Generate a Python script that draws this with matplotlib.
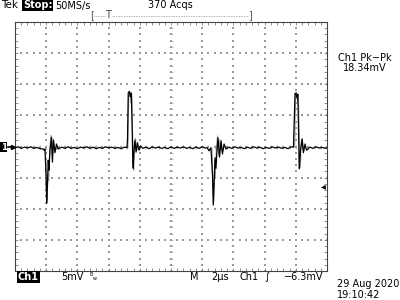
import numpy as np
from matplotlib import pyplot as plt

# scope settings
volts_per_div = 5      # mV
time_per_div = 2       # us
trig_level = -6.3      # mV

# main trace (time in us, voltage in mV)
trace_t = [0.0, 0.2, 0.4, 0.6, 0.8, 1.0, 1.2, 1.4, 1.6, 1.8,
           1.86, 1.92, 1.99, 2.03, 2.08, 2.13, 2.18, 2.24, 2.34, 2.40, 2.47, 2.56, 2.66, 2.76,
           3.0, 3.2, 3.4, 3.6, 3.8, 4.0, 4.2, 4.4, 4.6, 4.8, 5.0, 5.2, 5.4, 5.6, 5.8, 6.0,
           6.2, 6.4, 6.6, 6.8, 7.0, 7.18,
           7.21, 7.26, 7.33, 7.39, 7.46, 7.50, 7.55, 7.58, 7.63, 7.69, 7.76, 7.85, 7.95, 8.04,
           8.2, 8.4, 8.6, 8.8, 9.0, 9.2, 9.4, 9.6, 9.8, 10.0, 10.2, 10.4, 10.6, 10.8, 11.0,
           11.2, 11.4, 11.6, 11.8, 12.0, 12.2, 12.31,
           12.44, 12.56, 12.66, 12.71, 12.76, 12.82, 12.88, 12.95, 13.01, 13.11, 13.21, 13.30,
           13.40, 13.53,
           13.7, 13.9, 14.1, 14.3, 14.5, 14.7, 14.9, 15.1, 15.3, 15.5, 15.7, 15.9, 16.1, 16.3,
           16.5, 16.7, 16.9, 17.1, 17.3, 17.5, 17.7, 17.85,
           17.90, 17.95, 18.01, 18.08, 18.13, 18.17, 18.22, 18.30, 18.40, 18.49, 18.59, 18.69,
           18.9, 19.1, 19.3, 19.5, 19.7, 19.9, 20.0]
trace_v = [-0.2, -0.05, -0.3, -0.1, -0.25, -0.05, -0.3, -0.15, -0.35, -0.4,
           -0.56, -0.4, -4.6, -9.1, -6.2, -2.2, -3.8, -0.6, 1.5, -2.5, 1.0, -1.0, 0.4, -0.4,
           -0.1, -0.3, -0.05, -0.3, -0.15, -0.35, -0.1, -0.25, -0.05, -0.3, -0.1, -0.35, -0.15,
           -0.3, -0.05, -0.25, -0.1, -0.3, -0.15, -0.35, -0.1, -0.2,
           1.0, 8.6, 8.85, 8.0, 8.6, 4.3, -2.2, -3.5, -0.6, 1.0, -0.9, 0.6, -0.6, 0.1,
           -0.3, -0.1, -0.35, -0.05, -0.25, -0.1, -0.3, -0.15, -0.35, -0.05, -0.3, -0.1, -0.25,
           -0.05, -0.3, -0.15, -0.35, -0.1, -0.3, -0.05, -0.25, -0.2,
           -0.7, -0.2, -4.6, -9.4, -6.2, -1.8, -3.5, -0.6, 1.4, -1.7, 0.9, -1.2,
           0.4, -0.4,
           -0.1, -0.3, -0.05, -0.25, -0.15, -0.35, -0.1, -0.3, -0.05, -0.25, -0.1, -0.35, -0.15,
           -0.3, -0.05, -0.25, -0.1, -0.3, -0.15, -0.35, -0.05, -0.1,
           4.3, 8.5, 8.6, 7.8, 8.4, 3.5, -3.6, -0.6, 1.2, -1.0, 0.4, -0.6,
           -0.1, -0.3, -0.05, -0.25, -0.15, -0.3, -0.2]

# persistence (grey) acquisitions around the pulses
ghost_t = [1.95, 2.01, 2.06, 2.11, 2.16, 2.22, 2.30, 2.37, 2.45, 2.55, 2.70, np.nan,
           7.24, 7.29, 7.36, 7.42, 7.48, 7.53, 7.58, 7.61, 7.66, 7.72, 7.80, 7.90, np.nan,
           12.63, 12.69, 12.74, 12.79, 12.84, 12.90, 12.98, 13.05, 13.13, 13.23, 13.38, np.nan,
           17.93, 17.98, 18.05, 18.11, 18.17, 18.21, 18.26, 18.29, 18.34, 18.41, 18.50, 18.60]
ghost_v = [-0.3, -6.0, -8.5, -4.5, -5.5, -1.0, 1.8, -1.5, 1.2, -0.8, -0.2, np.nan,
           -0.2, 8.0, 8.9, 7.0, 8.2, 3.0, -2.5, -3.8, 0.2, 1.3, -0.6, -0.2, np.nan,
           -0.3, -6.5, -8.8, -4.2, -5.0, -0.8, 1.7, -1.4, 1.1, -0.7, -0.2, np.nan,
           -0.2, 7.9, 8.7, 7.2, 8.1, 2.8, -2.8, -3.4, 0.3, 1.2, -0.5, -0.2]

fig = plt.figure(figsize=(4, 3), dpi=100)
fig.patch.set_facecolor('white')


def px(x, y):
    return x / 400, 1 - y / 300


ax = fig.add_axes([15 / 400, 1 - 271 / 300, 312 / 400, 249 / 300])
ax.set_xlim(0, 10 * time_per_div)
ax.set_ylim(-4 * volts_per_div, 4 * volts_per_div)
for s in ax.spines.values():
    s.set_color('#444444')
    s.set_linewidth(0.8)

# edge ticks every 1/5 division
ax.set_xticks(np.arange(0, 20.01, time_per_div / 5))
ax.set_yticks(np.arange(-20, 20.01, volts_per_div / 5))
ax.tick_params(direction='in', length=2, width=0.5, color='#666666',
               top=True, right=True, labelbottom=False, labelleft=False)

# dotted graticule
gray = '#9a9a9a'
ydots = np.arange(-20, 20.01, 1)
xdots = np.arange(0, 20.01, 0.4)
for gx in range(2, 20, 2):
    ax.scatter(np.full_like(ydots, gx), ydots, s=0.8, marker='s', color=gray, linewidths=0)
for gy in range(-15, 20, 5):
    ax.scatter(xdots, np.full_like(xdots, gy), s=0.8, marker='s', color=gray, linewidths=0)
# center cross tick marks
ax.plot(xdots, np.zeros_like(xdots), ls='none', marker='|', ms=3, mew=0.5, color=gray)
ax.plot(np.full_like(ydots, 10), ydots, ls='none', marker='_', ms=3, mew=0.5, color=gray)

ax.plot(ghost_t, ghost_v, color='#a0a0a0', lw=0.8)
ax.plot(trace_t, trace_v, color='black', lw=0.9)

# header
fs = 7
fig.text(*px(1, 5.5), 'Tek', fontsize=fs + 0.5, va='center', ha='left')
fig.text(*px(23, 5.5), 'Stop:', fontsize=fs, va='center', ha='left', color='white',
         weight='bold', bbox=dict(facecolor='black', edgecolor='none', pad=0.6))
fig.text(*px(55, 5.5), '50MS/s', fontsize=fs, va='center', ha='left')
fig.text(*px(148, 5.5), '370 Acqs', fontsize=fs, va='center', ha='left')
fig.text(*px(92, 15.5), '[', fontsize=fs, va='center', ha='center', color='#555555')
fig.text(*px(250, 15.5), ']', fontsize=fs, va='center', ha='center', color='#555555')
fig.text(*px(108, 15.5), 'T', fontsize=fs, va='center', ha='center', color='#444444')
fig.add_artist(plt.Line2D([94 / 400, 105 / 400], [1 - 16 / 300] * 2, color='#999999',
                          lw=0.6, ls=(0, (1, 1))))
fig.add_artist(plt.Line2D([112 / 400, 248 / 400], [1 - 16 / 300] * 2, color='#999999',
                          lw=0.6, ls=(0, (1, 1))))

# measurement readout
fig.text(*px(365, 58), 'Ch1 Pk\u2212Pk', fontsize=fs, va='center', ha='center')
fig.text(*px(365, 68), '18.34mV', fontsize=fs, va='center', ha='center')

# ground and trigger markers
fig.text(*px(1, 147), '1', fontsize=fs - 1, va='center', ha='left', color='white',
         weight='bold', bbox=dict(facecolor='black', edgecolor='none', pad=0.4))
fig.add_artist(plt.Line2D([8 / 400, 13 / 400], [1 - 147 / 300] * 2, color='black', lw=1.2))
fig.add_artist(plt.Line2D([13 / 400], [1 - 147 / 300], color='black', marker='>', ms=3,
                          ls='none'))
fig.text(*px(323, 186), '\u25c2', fontsize=fs, va='center', ha='center')

# footer
fig.text(*px(18, 277), 'Ch1', fontsize=fs, va='center', ha='left', color='white',
         weight='bold', bbox=dict(facecolor='black', edgecolor='none', pad=0.6))
fig.text(*px(61, 277), '5mV', fontsize=fs, va='center', ha='left')
fig.text(*px(90, 275), 'B', fontsize=3.5, va='center', ha='left')
fig.text(*px(93, 278), 'w', fontsize=3.5, va='center', ha='left')
fig.text(*px(190, 277), 'M', fontsize=fs, va='center', ha='left')
fig.text(*px(211, 277), '2\u00b5s', fontsize=fs, va='center', ha='left')
fig.text(*px(240, 277), 'Ch1', fontsize=fs, va='center', ha='left')
fig.text(*px(264, 277), '\u222b', fontsize=fs, va='center', ha='left')
fig.text(*px(323, 277), '\u22126.3mV', fontsize=fs, va='center', ha='right')
fig.text(*px(337, 284), '29 Aug 2020', fontsize=fs, va='center', ha='left')
fig.text(*px(337, 295), '19:10:42', fontsize=fs, va='center', ha='left')

fig.savefig('out.png', dpi=100)
